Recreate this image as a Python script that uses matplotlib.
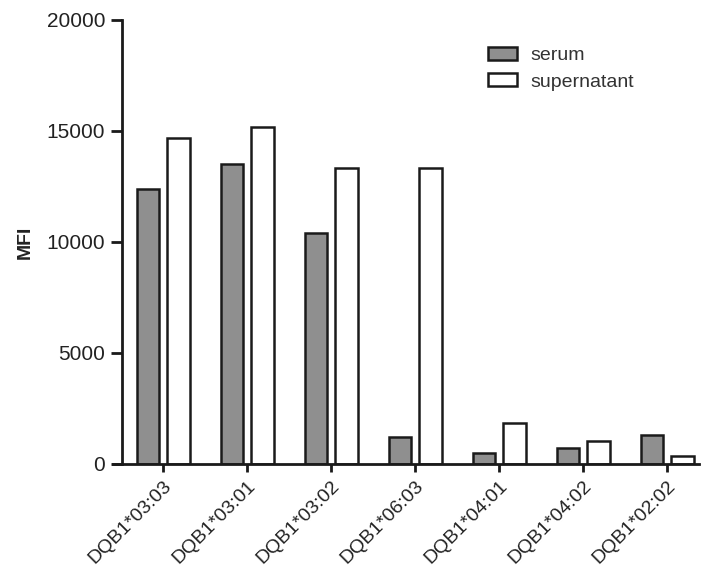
import matplotlib
matplotlib.use("Agg")
import matplotlib.pyplot as plt
import numpy as np

categories = ["DQB1*03:03", "DQB1*03:01", "DQB1*03:02", "DQB1*06:03",
              "DQB1*04:01", "DQB1*04:02", "DQB1*02:02"]
serum = [12400, 13500, 10400, 1230, 510, 700, 1320]
supernatant = [14700, 15200, 13330, 13330, 1860, 1050, 360]
yticks = [0, 5000, 10000, 15000, 20000]

plt.rcParams['font.family'] = ['Liberation Sans', 'DejaVu Sans']

fig = plt.figure(figsize=(7.03, 5.70), dpi=100)
ax = fig.add_axes([0.1735, 0.186, 0.821, 0.779])

x = np.arange(len(categories))
w = 0.27
off = 0.18
ax.bar(x - off, serum, width=w, color='#8f8f8f', edgecolor='#1a1a1a', linewidth=1.8, label='serum')
ax.bar(x + off, supernatant, width=w, color='white', edgecolor='#1a1a1a', linewidth=1.8, label='supernatant')

ax.set_xlim(-0.49, 6.38)
ax.set_ylim(0, 20000)
ax.set_yticks(yticks)
ax.set_yticklabels([str(v) for v in yticks], fontsize=15, color='#222222')
ax.set_xticks(x)
ax.set_xticklabels(categories, rotation=45, ha='right', rotation_mode='anchor', fontsize=14, color='#222222')
ax.set_ylabel('MFI', fontsize=14, fontweight='bold', color='#222222')
ax.yaxis.set_label_coords(-0.152, 0.5)

for s in ['top', 'right']:
    ax.spines[s].set_visible(False)
for s in ['left', 'bottom']:
    ax.spines[s].set_linewidth(2)
    ax.spines[s].set_color('#1a1a1a')
ax.spines['bottom'].set_bounds(-0.49 - 9/84, 6.38)
ax.tick_params(axis='y', length=8, width=2, color='#1a1a1a', pad=4)
ax.tick_params(axis='x', length=6, width=2, color='#1a1a1a', pad=4)
ax.spines['bottom'].set_clip_on(False)

leg = fig.legend(loc='upper left', bbox_to_anchor=(488/703, 1 - 47/570), frameon=False, fontsize=14,
                 borderpad=0, borderaxespad=0,
                 handlelength=1.5, handleheight=0.67, handletextpad=0.67, labelspacing=0.45)
for t in leg.get_texts():
    t.set_color('#333333')

fig.savefig('out.png', dpi=100)
